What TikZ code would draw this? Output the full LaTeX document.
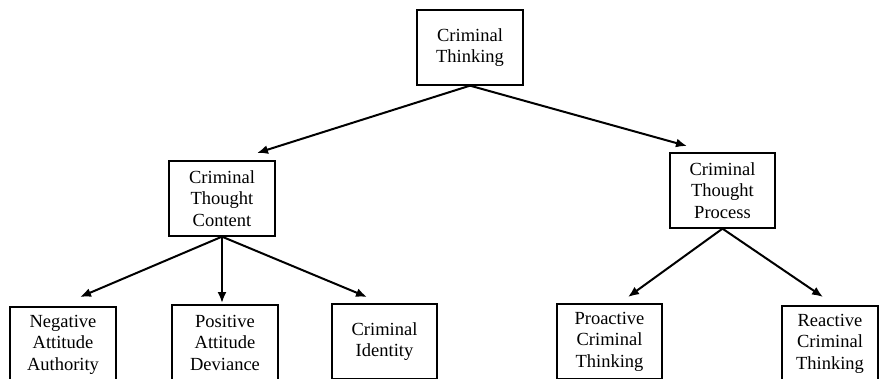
\documentclass[tikz,border=0pt]{standalone}
\usepackage{fontspec}
\setmainfont{Liberation Serif}
\usetikzlibrary{arrows.meta}
\begin{document}
\begin{tikzpicture}[x=1pt,y=-1pt,
  box/.style={draw, line width=1.3pt, minimum width=106pt, minimum height=75pt,
    inner sep=0pt, align=center, font=\fontsize{18.5}{21.5}\selectfont},
  conn/.style={line width=2pt, -{Latex[length=11pt,width=9pt]}}]
\clip (0,0) rectangle (881,378);
\fill[white] (0,0) rectangle (881,378);
\node[box] (top) at (470,47.5) {Criminal\\Thinking};
\node[box] (lm) at (222,198.5) {Criminal\\Thought\\Content};
\node[box, minimum width=105pt] (rm) at (722.5,190.5) {Criminal\\Thought\\Process};
\node[box] (b1) at (63,344.5) {Negative\\Attitude\\Authority};
\node[box] (b2) at (225,342.5) {Positive\\Attitude\\Deviance};
\node[box, minimum width=105pt] (b3) at (384.5,341.5) {Criminal\\Identity};
\node[box, minimum width=105pt] (b4) at (609.5,341.5) {Proactive\\Criminal\\Thinking};
\node[box, minimum width=96pt] (b5) at (830,343.5) {Reactive\\Criminal\\Thinking};
\coordinate (tl) at (257,153);
\coordinate (tr) at (687,146);
\coordinate (t1) at (80,297);
\coordinate (t2) at (222,303);
\coordinate (t3) at (367,297);
\coordinate (t4) at (628,297);
\coordinate (t5) at (823,297);
\draw[conn] (top.south) -- (tl);
\draw[conn] (top.south) -- (tr);
\draw[conn] (lm.south) -- (t1);
\draw[conn] (lm.south) -- (t2);
\draw[conn] (lm.south) -- (t3);
\draw[conn] (rm.south) -- (t4);
\draw[conn] (rm.south) -- (t5);
\end{tikzpicture}
\end{document}
